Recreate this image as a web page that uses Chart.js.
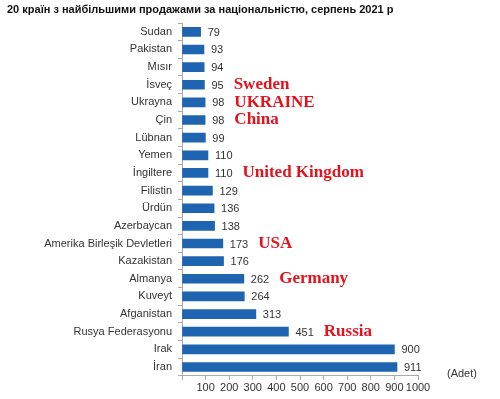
<!DOCTYPE html>
<html>
<head>
<meta charset="utf-8">
<script src="https://cdn.jsdelivr.net/npm/chart.js@4"></script>
<style>
  html, body { margin: 0; padding: 0; background: #fff; }
  #wrap { width: 500px; height: 399px; }
</style>
</head>
<body>
<div id="wrap"><canvas id="barchart" width="500" height="399"></canvas></div>
<script>
const titleText = '20 країн з найбільшими продажами за національністю, серпень 2021 р';
const countries = ['Sudan', 'Pakistan', 'Mısır', 'İsveç', 'Ukrayna', 'Çin', 'Lübnan', 'Yemen', 'İngiltere', 'Filistin',
  'Ürdün', 'Azerbaycan', 'Amerika Birleşik Devletleri', 'Kazakistan', 'Almanya', 'Kuveyt', 'Afganistan',
  'Rusya Federasyonu', 'Irak', 'İran'];
const sales = [79, 93, 94, 95, 98, 98, 99, 110, 110, 129, 136, 138, 173, 176, 262, 264, 313, 451, 900, 911];
const xTicks = [100, 200, 300, 400, 500, 600, 700, 800, 900, 1000];
const unitLabel = '(Adet)';
// red notes written next to some bars
const noteCountries = ['İsveç', 'Ukrayna', 'Çin', 'İngiltere', 'Amerika Birleşik Devletleri', 'Almanya', 'Rusya Federasyonu'];
const noteTexts = ['Sweden', 'UKRAINE', 'China', 'United Kingdom', 'USA', 'Germany', 'Russia'];

const extras = {
  id: 'extras',
  afterDatasetsDraw(chart) {
    const c = chart.ctx;
    const meta = chart.getDatasetMeta(0);
    c.save();
    // title
    c.fillStyle = '#111';
    c.font = 'bold 11px "Liberation Sans", Arial, sans-serif';
    c.textAlign = 'left';
    c.textBaseline = 'middle';
    c.fillText(titleText, 7, 10);

    // value labels
    c.font = '11px "Liberation Sans", Arial, sans-serif';
    c.fillStyle = '#333';
    const labelEnd = [];
    meta.data.forEach((bar, i) => {
      const s = String(sales[i]);
      c.fillText(s, bar.x + 7, bar.y + 1);
      labelEnd[i] = bar.x + 7 + c.measureText(s).width;
    });

    // red notes
    c.font = 'bold 17px "Liberation Serif", "Times New Roman", serif';
    c.fillStyle = '#e4121c';
    noteCountries.forEach((name, k) => {
      const i = countries.indexOf(name);
      const bar = meta.data[i];
      c.fillText(noteTexts[k], labelEnd[i] + 10, bar.y);
    });

    // unit
    c.font = '11px "Liberation Sans", Arial, sans-serif';
    c.fillStyle = '#333';
    const xs = chart.scales.x;
    c.fillText(unitLabel, xs.right + 29, xs.top - 2);
    c.restore();
  }
};

const ctx = document.getElementById('barchart').getContext('2d');
const barchart = new Chart(ctx, {
  type: 'bar',
  data: {
    labels: countries,
    datasets: [{
      data: sales,
      backgroundColor: '#1f64b1',
      barThickness: 9
    }]
  },
  options: {
    indexAxis: 'y',
    responsive: false,
    maintainAspectRatio: false,
    animation: false,
    layout: { padding: { top: 23, right: 82, bottom: 2, left: 0 } },
    plugins: {
      legend: { display: false },
      tooltip: { enabled: false }
    },
    scales: {
      x: {
        min: 0,
        max: 1000,
        afterBuildTicks(scale) {
          scale.ticks = [0].concat(xTicks).map(v => ({ value: v }));
        },
        ticks: {
          color: '#333',
          padding: 2,
          autoSkip: false,
          font: { family: '"Liberation Sans", Arial, sans-serif', size: 11 },
          maxRotation: 0,
          callback: v => (v === 0 ? '' : v)
        },
        grid: { drawOnChartArea: false, drawTicks: true, tickLength: 4, color: '#aaa' },
        border: { color: '#aaa' }
      },
      y: {
        afterFit(scale) { scale.width = 182; },
        ticks: {
          color: '#333',
          padding: 6,
          autoSkip: false,
          font: { family: '"Liberation Sans", Arial, sans-serif', size: 11 }
        },
        grid: { offset: true, drawOnChartArea: false, drawTicks: true, tickLength: 4, color: '#aaa' },
        border: { color: '#aaa' }
      }
    }
  },
  plugins: [extras]
});
</script>
</body>
</html>
